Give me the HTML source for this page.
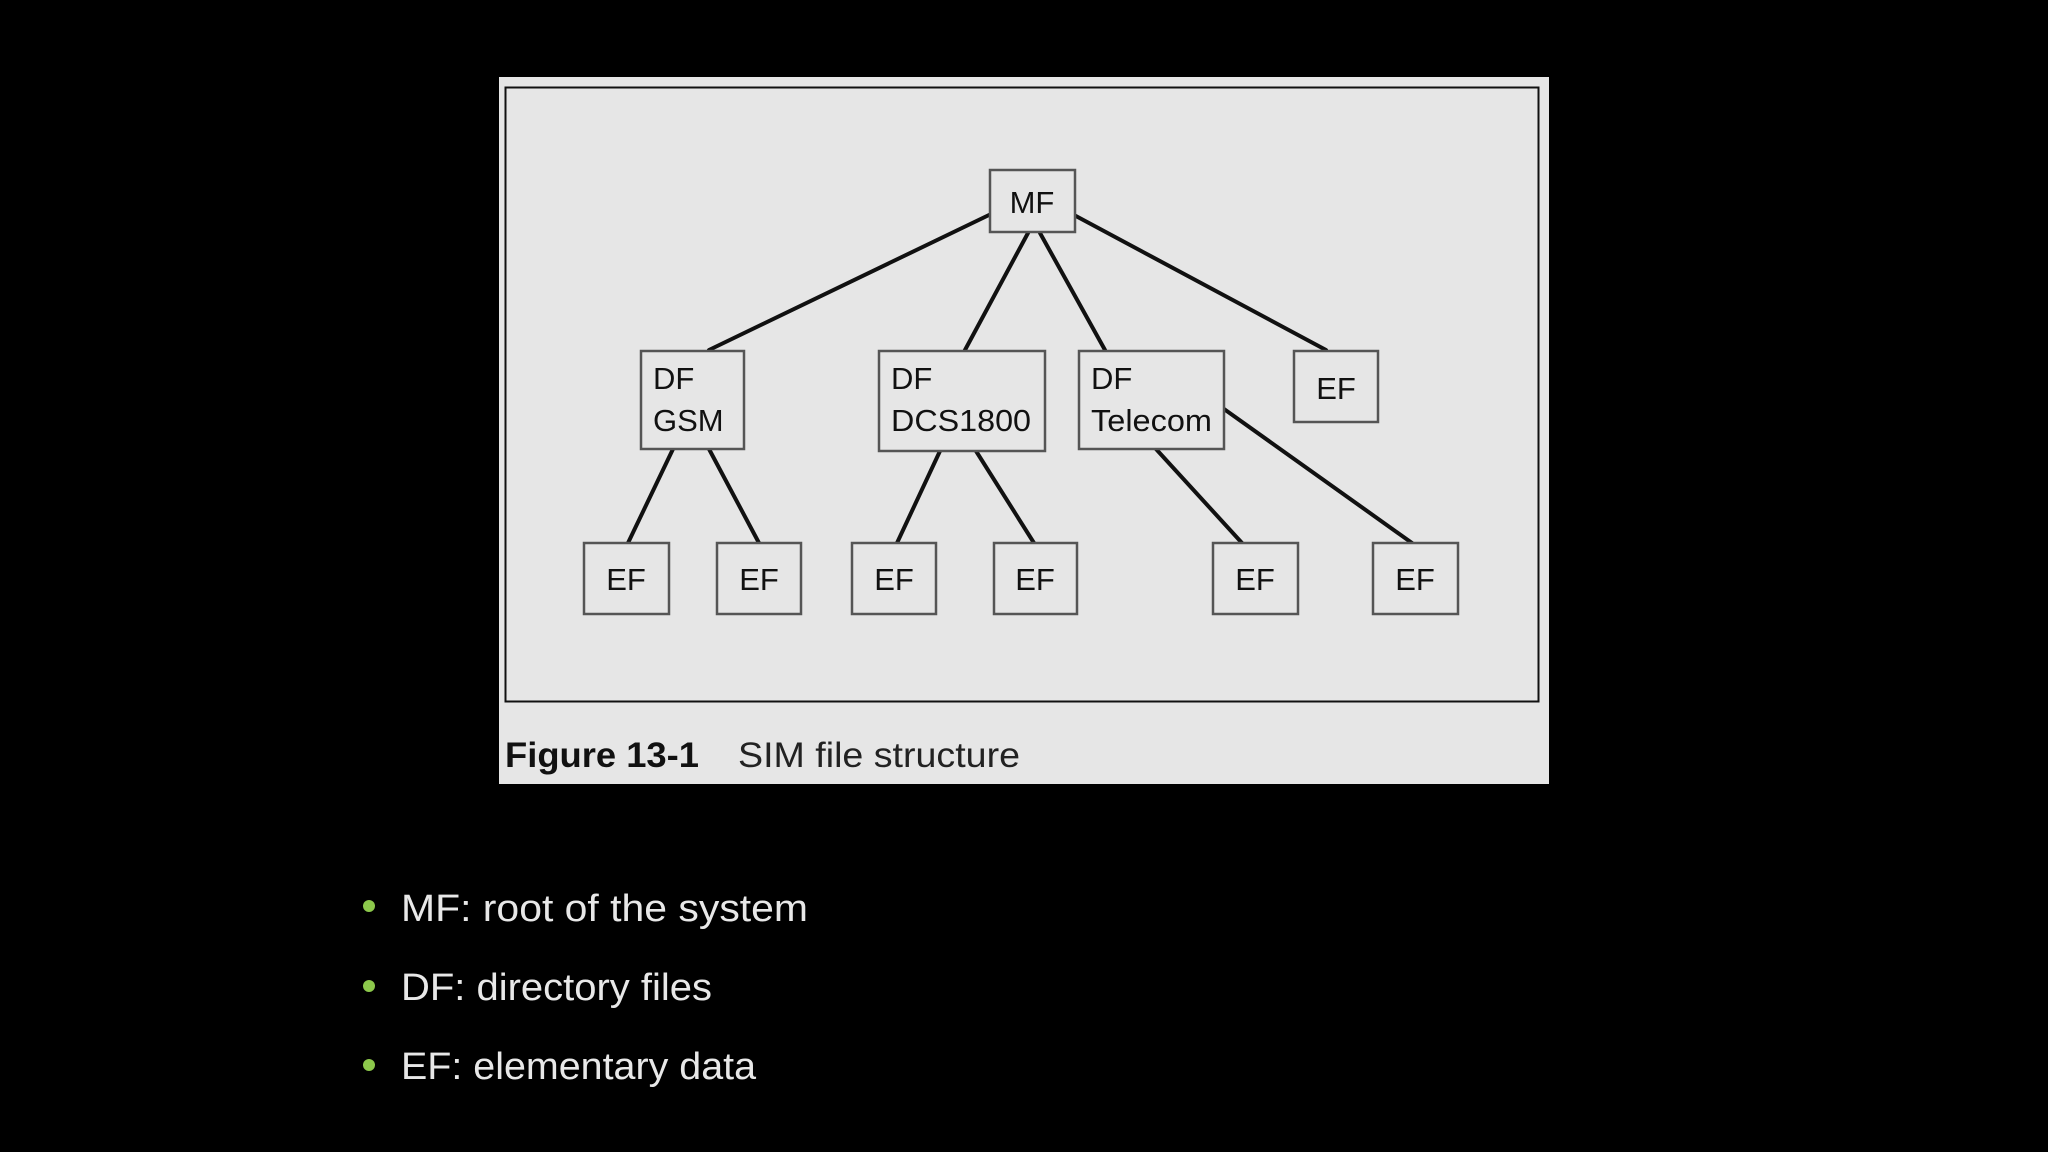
<!DOCTYPE html>
<html><head><meta charset="utf-8"><style>
html,body{margin:0;padding:0;background:#000;}
body{width:2048px;height:1152px;overflow:hidden;position:relative;font-family:"Liberation Sans",sans-serif;}
</style></head><body>
<svg width="2048" height="1152" viewBox="0 0 2048 1152" style="position:absolute;left:0;top:0">
<rect x="499" y="77" width="1050" height="707" fill="#e6e6e6"/>
<rect x="505.5" y="87.5" width="1033" height="614" fill="none" stroke="#111" stroke-width="2"/>
<g stroke="#111" stroke-width="4" fill="none" stroke-linecap="round">
<line x1="989" y1="215" x2="709" y2="350"/>
<line x1="1028" y1="233" x2="965" y2="350"/>
<line x1="1040" y1="233" x2="1105" y2="350"/>
<line x1="1074" y1="215" x2="1326" y2="350"/>
<line x1="673" y1="449" x2="628" y2="543"/>
<line x1="709" y1="449" x2="759" y2="543"/>
<line x1="940" y1="451" x2="897" y2="543"/>
<line x1="976" y1="451" x2="1034" y2="543"/>
<line x1="1156" y1="449" x2="1242" y2="543"/>
<line x1="1224" y1="409" x2="1412" y2="543"/>
</g>
<g fill="#e6e6e6" stroke="#555" stroke-width="2.5">
<rect x="990" y="170" width="85" height="62"/>
<rect x="641" y="351" width="103" height="98"/>
<rect x="879" y="351" width="166" height="100"/>
<rect x="1079" y="351" width="145" height="98"/>
<rect x="1294" y="351" width="84" height="71"/>
<rect x="584" y="543" width="85" height="71"/>
<rect x="717" y="543" width="84" height="71"/>
<rect x="852" y="543" width="84" height="71"/>
<rect x="994" y="543" width="83" height="71"/>
<rect x="1213" y="543" width="85" height="71"/>
<rect x="1373" y="543" width="85" height="71"/>
</g>
<g fill="#111" font-family="Liberation Sans, sans-serif" font-size="31">
<text x="1032" y="213" text-anchor="middle">MF</text>
<text x="653" y="389">DF</text><text x="653" y="431">GSM</text>
<text x="891" y="389">DF</text><text x="891" y="431" textLength="140" lengthAdjust="spacingAndGlyphs">DCS1800</text>
<text x="1091" y="389">DF</text><text x="1091" y="431" textLength="121" lengthAdjust="spacingAndGlyphs">Telecom</text>
<text x="1336" y="399" text-anchor="middle">EF</text>
<text x="626" y="590" text-anchor="middle">EF</text>
<text x="759" y="590" text-anchor="middle">EF</text>
<text x="894" y="590" text-anchor="middle">EF</text>
<text x="1035" y="590" text-anchor="middle">EF</text>
<text x="1255" y="590" text-anchor="middle">EF</text>
<text x="1415" y="590" text-anchor="middle">EF</text>
</g>
<text x="505" y="767" font-size="35" font-weight="bold" fill="#111" textLength="194" lengthAdjust="spacingAndGlyphs">Figure 13-1</text>
<text x="738" y="767" font-size="35" fill="#222" textLength="282" lengthAdjust="spacingAndGlyphs">SIM file structure</text>
<g fill="#8cc84b">
<circle cx="369" cy="906" r="6"/>
<circle cx="369" cy="986" r="6"/>
<circle cx="369" cy="1065" r="6"/>
</g>
<g fill="#e8e8e8" font-size="38">
<text x="401" y="921" textLength="407" lengthAdjust="spacingAndGlyphs">MF: root of the system</text>
<text x="401" y="1000" textLength="311" lengthAdjust="spacingAndGlyphs">DF: directory files</text>
<text x="401" y="1079" textLength="355" lengthAdjust="spacingAndGlyphs">EF: elementary data</text>
</g>
</svg>
</body></html>
